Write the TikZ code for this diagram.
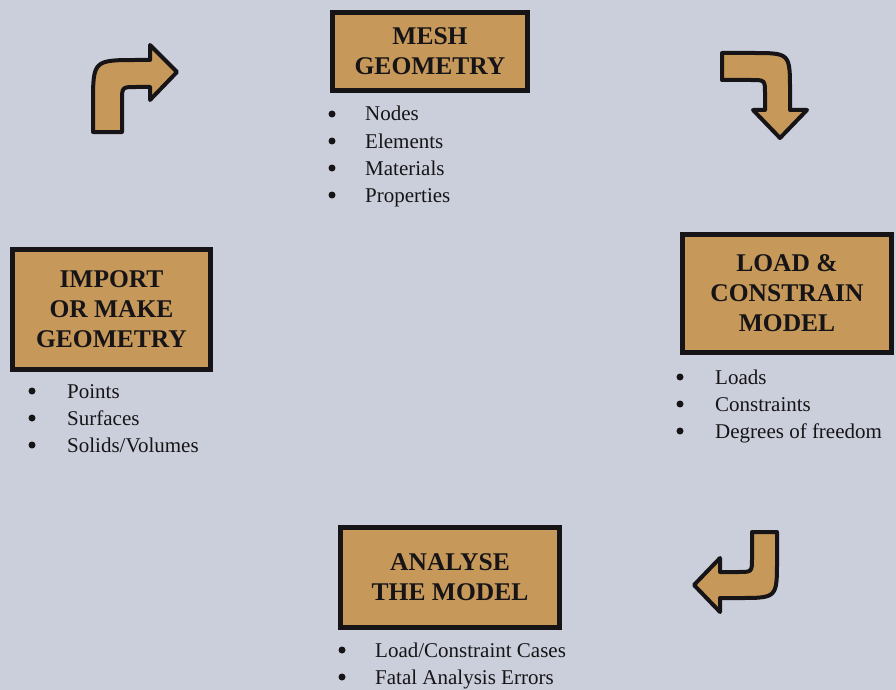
\documentclass[tikz,border=0pt]{standalone}
\usepackage{fontspec}
\setmainfont{Liberation Serif}
\definecolor{bgc}{RGB}{203,207,219}
\definecolor{tan}{RGB}{198,153,90}
\definecolor{ink}{RGB}{22,20,22}
\tikzset{
  stagebox/.style={draw=ink, line width=5pt, fill=tan, inner sep=0pt, align=center,
    text=ink, font=\fontsize{25.5}{30}\selectfont\bfseries},
  bul/.style={circle, fill=ink, minimum size=7pt, inner sep=0pt},
  itm/.style={text=ink, font=\fontsize{21}{27}\selectfont, inner sep=0pt, anchor=base west},
  bentarrow/.style={draw=ink, fill=tan, line width=4pt, line join=round}
}
\begin{document}
\begin{tikzpicture}[x=1pt,y=-1pt]
\useasboundingbox (0,0) rectangle (896,690);
\fill[bgc] (0,0) rectangle (896,690);

% boxes
\node[stagebox, minimum width=195pt, minimum height=78pt] (mesh) at (430,51.5) {MESH\\GEOMETRY};
\node[stagebox, minimum width=198pt, minimum height=120pt] (import) at (111.5,309.5) {IMPORT\\OR MAKE\\GEOMETRY};
\node[stagebox, minimum width=209pt, minimum height=118pt] (load) at (787,293.5) {LOAD \&\\CONSTRAIN\\MODEL};
\node[stagebox, minimum width=219pt, minimum height=100pt] (analyse) at (450,577.5) {ANALYSE\\THE MODEL};

% bullet lists
\foreach \t [count=\i] in {Nodes,Elements,Materials,Properties}{
  \node[bul] (mb\i) at (332,87+27*\i) {};
  \node[itm] (mt\i) at (365,94+27*\i) {\t};
}
\foreach \t [count=\i] in {Points,Surfaces,Solids/Volumes}{
  \node[bul] (ib\i) at (32,364+27*\i) {};
  \node[itm] (it\i) at (67,371+27*\i) {\t};
}
\foreach \t [count=\i] in {Loads,Constraints,Degrees of freedom}{
  \node[bul] (lb\i) at (680,350+27*\i) {};
  \node[itm] (lt\i) at (715,357+27*\i) {\t};
}
\foreach \t [count=\i] in {Load/Constraint Cases,Fatal Analysis Errors}{
  \node[bul] (ab\i) at (342,623+27*\i) {};
  \node[itm] (at\i) at (375,630+27*\i) {\t};
}

% curved arrows
\draw[bentarrow] (93,132) -- (93,105) .. controls (93,60) .. (138,60) -- (150,60)
  -- (150,45) -- (177,72) -- (150,100) -- (150,87) -- (136,87)
  .. controls (122,87) .. (122,101) -- (122,132) -- cycle;
\draw[bentarrow] (722,53) -- (752,53) .. controls (790,53) .. (790,91) -- (790,110)
  -- (807,110) -- (780,138) -- (753,110) -- (765,110) -- (765,94)
  .. controls (765,80) .. (751,80) -- (722,80) -- cycle;
\draw[bentarrow] (752,532) -- (777,532) -- (777,560) .. controls (777,598) .. (739,598)
  -- (720,598) -- (720,612) -- (694,585) -- (720,558) -- (720,572) -- (738,572)
  .. controls (752,572) .. (752,558) -- cycle;
\end{tikzpicture}
\end{document}
